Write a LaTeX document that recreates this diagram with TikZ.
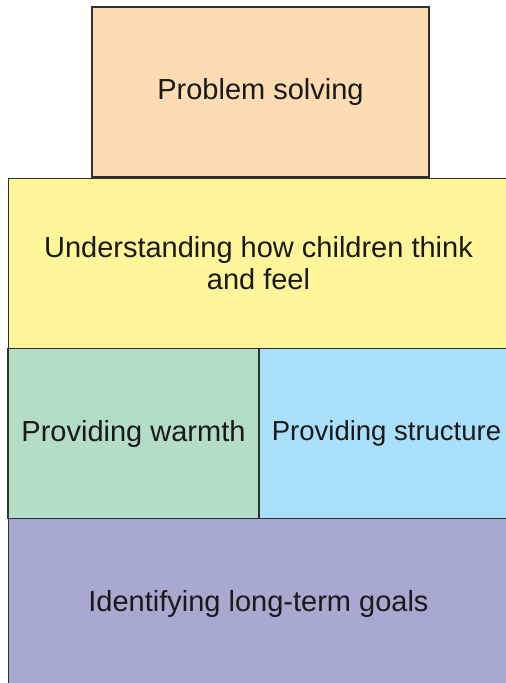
\documentclass[tikz,border=0pt]{standalone}
\usepackage{fontspec}
\setmainfont{Liberation Sans}
\definecolor{cOrange}{HTML}{FDDCB4}
\definecolor{cYellow}{HTML}{FFF599}
\definecolor{cGreen}{HTML}{B3DDC5}
\definecolor{cBlue}{HTML}{A9DFF9}
\definecolor{cPurple}{HTML}{A8A9D1}
\definecolor{cEdge}{HTML}{2E2E33}
\begin{document}
\begin{tikzpicture}[x=1pt,y=-1pt,
  blk/.style={draw=cEdge,line width=1.4pt,rectangle,inner sep=0pt,align=center,
    font=\fontsize{29}{32}\selectfont,text=black!90},
  lbl/.style={inner sep=0pt,align=center,text=black!90}]
\useasboundingbox (0,0) rectangle (506,683);
\node[blk,fill=cOrange,minimum width=337pt,minimum height=170pt] (ps) at (260.5,92) {Problem solving};
\node[blk,fill=cYellow,minimum width=500pt,minimum height=170pt] (und) at (258.5,263.5) {Understanding how children think\\and feel};
\node[blk,fill=cGreen,minimum width=251pt,minimum height=170pt] (warm) at (133.5,433.5) {Providing warmth};
\node[blk,fill=cBlue,minimum width=249pt,minimum height=170pt] (str) at (384,433.5) {};
\node[lbl,font=\fontsize{27.5}{32}\selectfont] (strtxt) at (386.5,433.5) {Providing structure};
\node[blk,fill=cPurple,minimum width=500pt,minimum height=170pt] (goals) at (258.5,603.5) {Identifying long-term goals};
\end{tikzpicture}
\end{document}
